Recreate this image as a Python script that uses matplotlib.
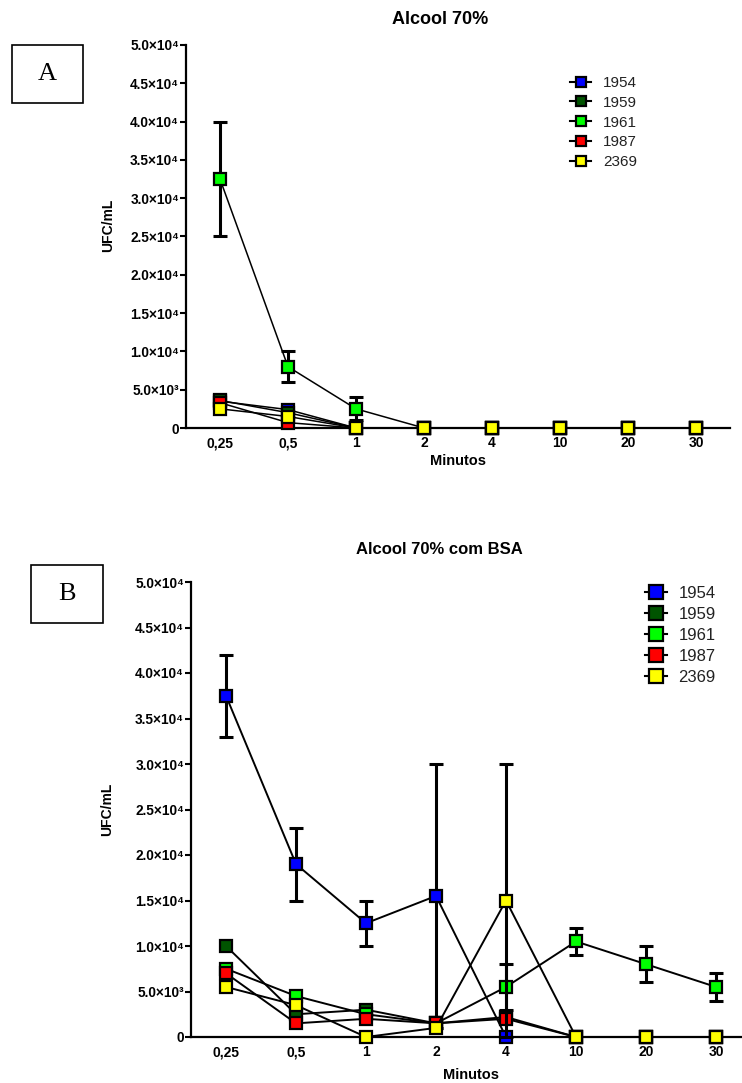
import matplotlib
matplotlib.use("Agg")
import matplotlib.pyplot as plt
from matplotlib.lines import Line2D
from matplotlib.patches import Rectangle
from matplotlib.ticker import FuncFormatter, MultipleLocator

# x categories (minutes) and strains
minutos = ["0,25", "0,5", "1", "2", "4", "10", "20", "30"]
cepas = ["1954", "1959", "1961", "1987", "2369"]
cores = ["#0000ff", "#005400", "#00ff00", "#ff0000", "#ffff00"]

# Panel A - Alcool 70%
a_1954 = [3500, 2400, 0, 0, 0, 0, 0, 0]
a_1959 = [3600, 2000, 0, 0, 0, 0, 0, 0]
a_1961 = [32500, 8000, 2500, 0, 0, 0, 0, 0]
a_1987 = [3300, 700, 0, 0, 0, 0, 0, 0]
a_2369 = [2500, 1500, 0, 0, 0, 0, 0, 0]
a_err_1961 = [7500, 2000, 1500, 0, 0, 0, 0, 0]

# Panel B - Alcool 70% com BSA
b_1954 = [37500, 19000, 12500, 15500, 0, 0, 0, 0]
b_1959 = [10000, 2500, 3000, 1500, 2200, 0, 0, 0]
b_1961 = [7500, 4500, 2500, 1500, 5500, 10500, 8000, 5500]
b_1987 = [7000, 1500, 2000, 1500, 2000, 0, 0, 0]
b_2369 = [5500, 3500, 0, 1000, 15000, 0, 0, 0]
b_err_1954 = [4500, 4000, 2500, 14500, 0, 0, 0, 0]
b_err_1961 = [0, 0, 0, 0, 2500, 1500, 2000, 1500]
b_err_2369 = [0, 0, 0, 0, 15000, 0, 0, 0]

SANS = ["Liberation Sans", "DejaVu Sans"]
SUP = {3: "\u00b3", 4: "\u2074"}


def fmt_y(v, pos):
    if v == 0:
        return "0"
    exp = 4 if v >= 10000 else 3
    return f"{v / 10**exp:.1f}\u00d710{SUP[exp]}"


def draw_panel(ax, series, errors, lw):
    x = list(range(len(minutos)))
    for i, (vals, col) in enumerate(zip(series, cores)):
        err = errors[i]
        if err is not None:
            ex = [k for k in x if err[k] > 0]
            ey = [vals[k] for k in ex]
            ee = [err[k] for k in ex]
            ax.errorbar(ex, ey, yerr=ee, fmt="none", ecolor="black",
                        elinewidth=2.2, capsize=4.7, capthick=2.2,
                        zorder=3 + 2 * i, clip_on=False)
        ax.plot(x, vals, color="black", lw=lw, marker="s", ms=8.5,
                mfc=col, mec="black", mew=1.6, zorder=4 + 2 * i, clip_on=False)

    ax.set_xlim(-0.5, 7.5)
    ax.set_ylim(0, 50000)
    ax.set_xticks(x)
    ax.set_xticklabels(minutos, fontsize=10, fontweight="bold", family=SANS)
    ax.yaxis.set_major_locator(MultipleLocator(5000))
    ax.yaxis.set_major_formatter(FuncFormatter(fmt_y))
    for t in ax.get_yticklabels():
        t.set_fontsize(9.8)
        t.set_fontweight("bold")
        t.set_family(SANS)
    ax.tick_params(axis="x", length=0, pad=6)
    ax.tick_params(axis="y", length=4, width=1.5, pad=1, direction="out")
    for s in ["top", "right"]:
        ax.spines[s].set_visible(False)
    for s in ["left", "bottom"]:
        ax.spines[s].set_linewidth(1.6)
    ax.set_xlabel("Minutos", fontsize=10.5, fontweight="bold", family=SANS)
    ax.set_ylabel("UFC/mL", fontsize=10, fontweight="bold", family=SANS)


def legend_handles(ms):
    return [Line2D([], [], color="black", lw=1.5, marker="s", ms=ms,
                   mfc=c, mec="black", mew=1.6) for c in cores]


fig = plt.figure(figsize=(7.42, 10.83), dpi=100)
W, H = 742, 1083

axA = fig.add_axes([186 / W, 1 - 428 / H, 544 / W, 383 / H])
draw_panel(axA, [a_1954, a_1959, a_1961, a_1987, a_2369],
           [None, None, a_err_1961, None, None], lw=1.1)
axA.yaxis.set_label_coords(-0.13, 0.53)
axA.xaxis.set_label_coords(0.5, -0.068)

axB = fig.add_axes([191 / W, 1 - 1037 / H, 560 / W, 455 / H])
draw_panel(axB, [b_1954, b_1959, b_1961, b_1987, b_2369],
           [b_err_1954, None, b_err_1961, None, b_err_2369], lw=1.4)
axB.yaxis.set_label_coords(-0.137, 0.5)
axB.xaxis.set_label_coords(0.5, -0.068)

fig.text(440 / W, 1 - 20 / H, "Alcool 70%", ha="center", va="center",
         fontsize=13, fontweight="bold", family=SANS)
fig.text(439 / W, 1 - 550 / H, "Alcool 70% com BSA", ha="center", va="center",
         fontsize=12, fontweight="bold", family=SANS)

legA = fig.legend(legend_handles(7.8), cepas, loc="upper left",
                  bbox_to_anchor=(570 / W, 1 - 76 / H), bbox_transform=fig.transFigure,
                  frameon=False, fontsize=11, handlelength=1.4, handletextpad=0.75,
                  labelspacing=0.38, borderpad=0, borderaxespad=0)
legB = fig.legend(legend_handles(10), cepas, loc="upper left",
                  bbox_to_anchor=(645 / W, 1 - 586 / H), bbox_transform=fig.transFigure,
                  frameon=False, fontsize=12, handlelength=1.3, handletextpad=0.7,
                  labelspacing=0.36, borderpad=0, borderaxespad=0)
for leg in (legA, legB):
    for t in leg.get_texts():
        t.set_family(SANS)
        t.set_color("#222222")

# panel letter boxes
for (x0, y0, x1, y1, letter) in [(12, 45, 83, 103, "A"), (31, 565, 103, 623, "B")]:
    fig.add_artist(Rectangle((x0 / W, 1 - y1 / H), (x1 - x0) / W, (y1 - y0) / H,
                             transform=fig.transFigure, fill=False, lw=1.2,
                             edgecolor="black"))
    fig.text((x0 + x1) / 2 / W, 1 - (y0 + y1) / 2 / H, letter, ha="center", va="center",
             fontsize=19, family=["Liberation Serif", "DejaVu Serif"])

fig.savefig("out.png", dpi=100)
